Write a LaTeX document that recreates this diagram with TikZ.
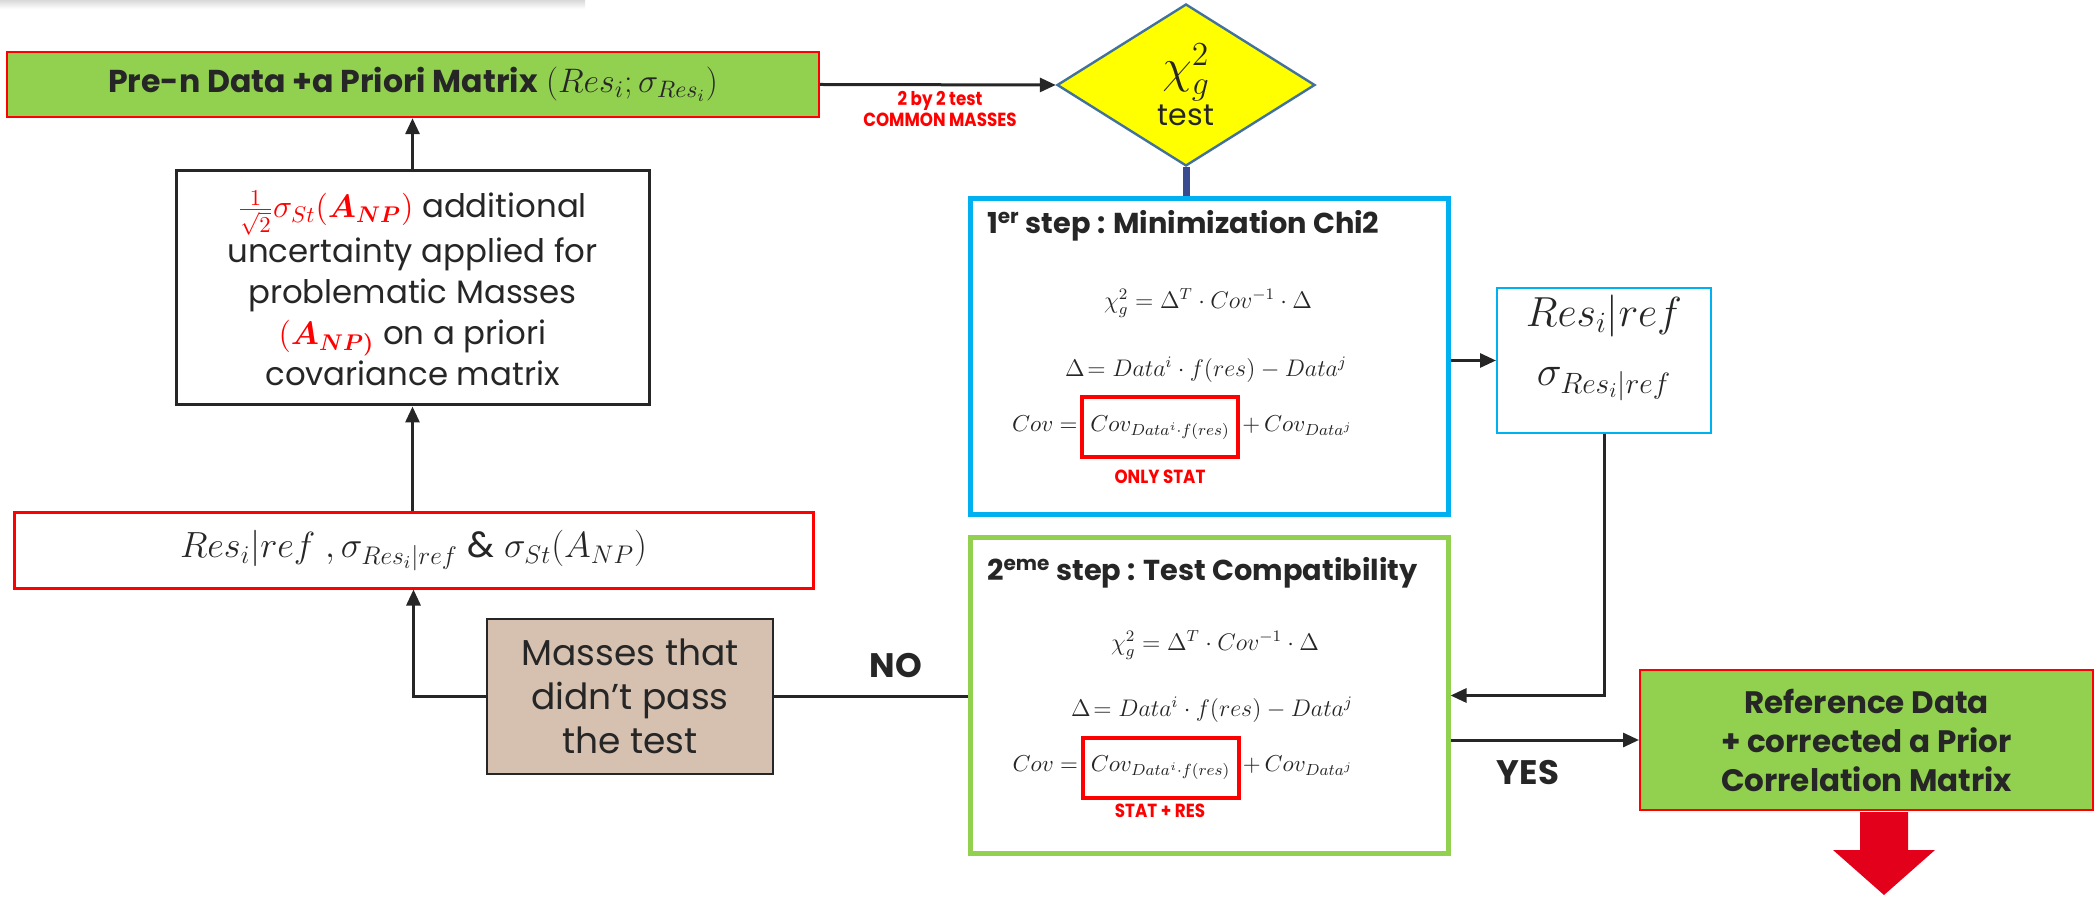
\RequirePackage{fix-cm}
\documentclass[tikz,border=0pt]{standalone}
\usepackage{amsmath}
\usepackage{bm}
\usepackage[no-math]{fontspec}
\setmainfont{Poppins}
\newfontfamily\condfont[FakeStretch=0.88]{Poppins}
\usetikzlibrary{arrows.meta,calc,shapes.geometric}
\definecolor{cgreen}{HTML}{92D050}
\definecolor{cred}{HTML}{FF0000}
\definecolor{ccyan}{HTML}{00B0F0}
\definecolor{cbrown}{HTML}{D6C0AF}
\definecolor{cyel}{HTML}{FFFF00}
\definecolor{cdiam}{HTML}{41719C}
\definecolor{cnavy}{HTML}{3B4B8F}
\definecolor{ctext}{HTML}{262626}
\definecolor{carrow}{HTML}{E3001B}
\begin{document}
\begin{tikzpicture}[x=0.5pt,y=-0.5pt,
  every node/.append style={text=ctext},
  box/.style={rectangle, inner sep=0pt, align=center},
  conn/.style={draw=ctext, line width=1.5pt, -{Triangle[length=8pt,width=7pt]}},
  plain/.style={draw=ctext, line width=1.5pt},
  eqf/.style={font=\fontsize{12}{14}\selectfont, inner sep=1pt},
  eqc/.style={font=\fontsize{11.5}{13}\selectfont, inner sep=0.5pt},
  tagf/.style={text=cred, font=\condfont\bfseries\fontsize{9.5}{10.5}\selectfont},
  titf/.style={anchor=west, font=\bfseries\fontsize{14.4}{16}\selectfont},
  redbox/.style={draw=cred, line width=2pt, minimum width=78pt, minimum height=30pt, inner sep=1pt, font=\fontsize{11.5}{13}\selectfont}
]
\useasboundingbox (0,0) rectangle (2098,897);
\shade[top color=black!15, bottom color=white] (0,0) rectangle (585,9);

% top green box
\node[box, fill=cgreen, draw=cred, line width=1.2pt, minimum width=406pt, minimum height=32.5pt,
      font=\fontsize{15.8}{17}\selectfont] (top) at (413,84.5)
  {\textbf{Pre-n Data +a Priori Matrix} {\fontsize{17}{18}\selectfont$(Res_i;\sigma_{Res_i})$}};

% diamond
\node[diamond, draw=cdiam, fill=cyel, line width=1.2pt, minimum width=129pt, minimum height=81pt,
      inner sep=0pt, aspect=1.6, align=center] (diam) at (1186,85)
  {{\fontsize{24}{24}\selectfont$\chi^2_g$}\\[1pt]{\fontsize{15}{15}\selectfont test}};
\node[tagf, align=center] (lab) at (940,109) {2 by 2 test\\COMMON MASSES};

% step 1
\node[box, draw=ccyan, line width=2.5pt, minimum width=239pt, minimum height=158pt] (s1) at (1209,357) {};
\node[titf] (s1t) at (980,226) {1\textsuperscript{er} step : Minimization Chi2};
\node[eqf] (s1e1) at (1208,303) {$\chi^2_g=\Delta^T\cdot Cov^{-1}\cdot\Delta$};
\node[eqf] (s1e2) at (1206,370) {$\Delta\!=Data^{i}\cdot f(res)-Data^{j}$};
\node[redbox] (s1b) at (1160,427.5) {$Cov_{Data^{i}\cdot f(res)}$};
\node[eqc, anchor=base east, xshift=-0.5pt] (s1l) at (s1b.base west) {$Cov=$};
\node[eqc, anchor=base west, xshift=0.5pt] (s1r) at (s1b.base east) {$+\,Cov_{Data^{j}}$};
\node[tagf] (s1n) at (1160,477) {ONLY STAT};

% step 2
\node[box, draw=cgreen, line width=2.5pt, minimum width=239pt, minimum height=157.5pt] (s2) at (1209,695.5) {};
\node[titf] (s2t) at (980,573) {2\textsuperscript{eme} step : Test Compatibility};
\node[eqf] (s2e1) at (1215,645) {$\chi^2_g=\Delta^T\cdot Cov^{-1}\cdot\Delta$};
\node[eqf] (s2e2) at (1212,710) {$\Delta\!=Data^{i}\cdot f(res)-Data^{j}$};
\node[redbox] (s2b) at (1160.5,767.5) {$Cov_{Data^{i}\cdot f(res)}$};
\node[eqc, anchor=base east, xshift=-0.5pt] (s2l) at (s2b.base west) {$Cov=$};
\node[eqc, anchor=base west, xshift=0.5pt] (s2r) at (s2b.base east) {$+\,Cov_{Data^{j}}$};
\node[tagf] (s2n) at (1160,811) {STAT + RES};

% right box
\node[box, draw=ccyan, line width=1pt, minimum width=107pt, minimum height=72.5pt] (rb) at (1604,360.5) {};
\node (rbt) at (1604,316) {\fontsize{21}{22}\selectfont$Res_i|ref$};
\node (rbs) at (1604,384) {\fontsize{21}{22}\selectfont$\sigma_{Res_i|ref}$};

% reference box
\node[box, fill=cgreen, draw=cred, line width=1pt, minimum width=226.5pt, minimum height=70pt,
      font=\bfseries\fontsize{15.5}{19.5}\selectfont] (ref) at (1866.5,740)
  {Reference Data\\+ corrected a Prior\\Correlation Matrix};
\fill[carrow] (1860,812) -- (1908,812) -- (1908,850) -- (1935,850) -- (1884,895) -- (1833,850) -- (1860,850) -- cycle;

% left box
\node[box, draw=ctext, line width=1.5pt, minimum width=236.5pt, minimum height=117pt,
      font=\fontsize{16.2}{20.5}\selectfont] (lbox) at (412.5,288)
  {{\color{cred}$\frac{1}{\sqrt{2}}\sigma_{St}(\bm{A_{NP}})$} additional\\
   uncertainty applied for\\
   problematic Masses\\
   {\color{cred}$(\bm{A_{NP)}}$} on a priori\\
   covariance matrix};

% red box
\node[box, draw=cred, line width=1.5pt, minimum width=399.5pt, minimum height=37.5pt,
      font=\fontsize{18.2}{19}\selectfont] (rbox) at (413.5,550.5)
  {$Res_i|ref\ ,\sigma_{Res_i|ref}$ \& $\sigma_{St}(A_{NP})$};

% brown box
\node[box, fill=cbrown, draw=ctext, line width=1.2pt, minimum width=143pt, minimum height=77.5pt,
      font=\fontsize{18}{22}\selectfont] (brown) at (630,696.5)
  {Masses that\\didn’t pass\\the test};

\node[font=\bfseries\fontsize{17}{18}\selectfont] (no) at (896,666) {NO};
\node[font=\bfseries\fontsize{17}{18}\selectfont] (yes) at (1528,773) {YES};

% connectors
\draw[conn] (top.east) -- (diam.west);
\draw[cnavy, line width=3.5pt] (diam.south) -- (diam.south |- s1.north);
\draw[conn] (s1.east |- rb.west) -- (rb.west);
\draw[conn] (rb.south) |- (s2.east);
\draw[conn] (s2.east |- ref.west) -- (ref.west);
\draw[plain] (brown.east) -- (brown.east -| s2.west);
\draw[conn] (brown.west) -| (rbox.south);
\draw[conn] (lbox.south |- rbox.north) -- (lbox.south);
\draw[conn] (lbox.north) -- (lbox.north |- top.south);
\end{tikzpicture}
\end{document}
